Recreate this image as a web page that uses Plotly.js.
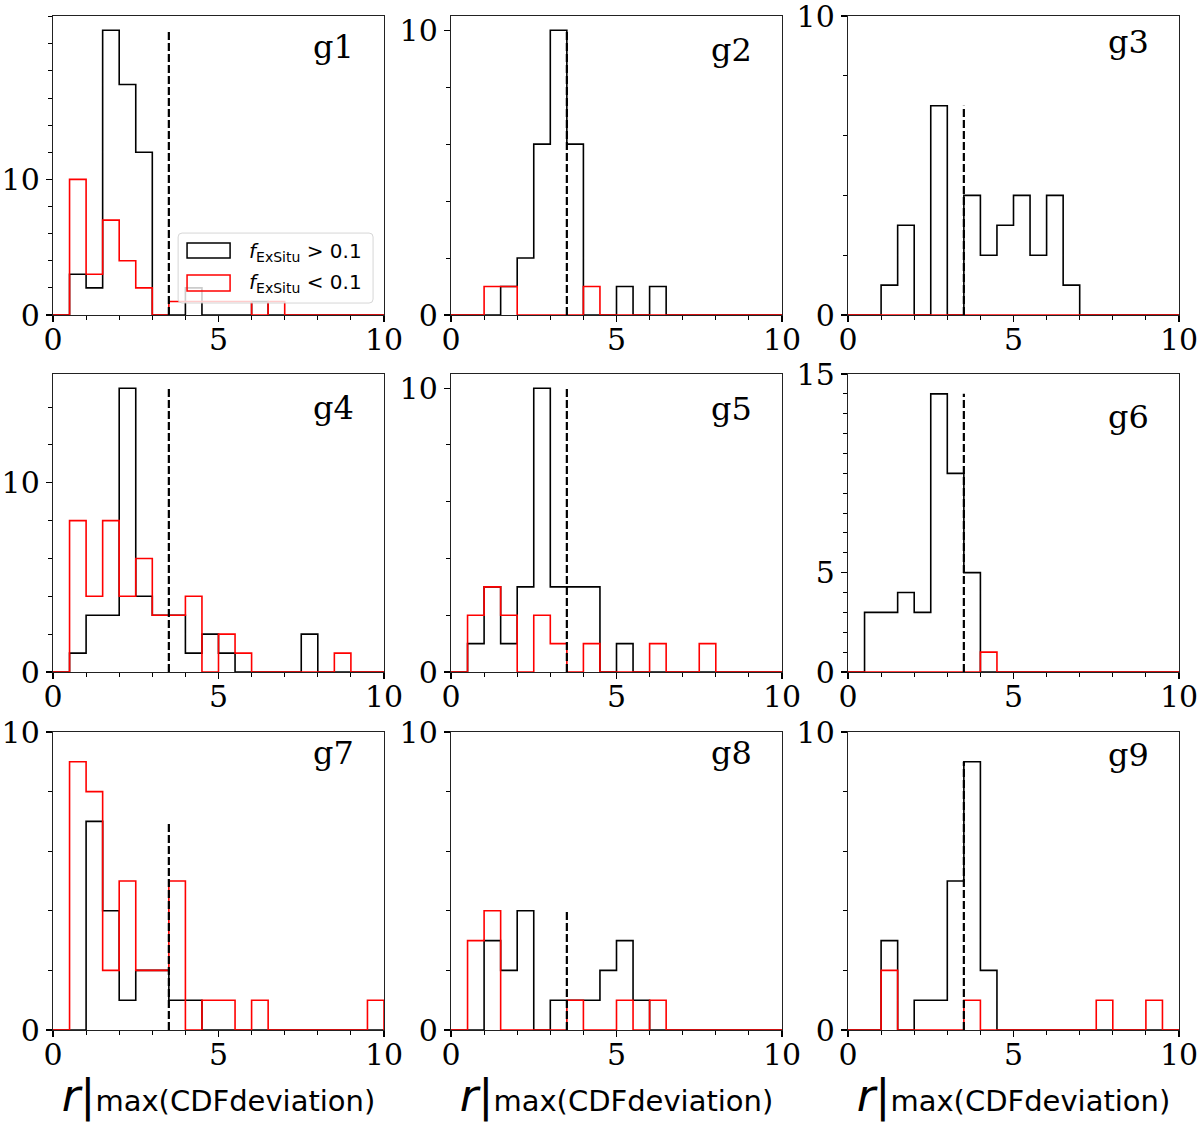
<!DOCTYPE html>
<html>
<head>
<meta charset="utf-8">
<script src="https://cdn.plot.ly/plotly-3.0.1.min.js"></script>
<style>
html, body { margin: 0; padding: 0; background: #fff; }
#plot { width: 1200px; height: 1122px; }
</style>
</head>
<body>
<div id="plot"></div>
<script>
// bin edges of all histograms (width 0.5)
var binEdges = [0, 0.5, 1, 1.5, 2, 2.5, 3, 3.5, 4, 4.5, 5, 5.5, 6, 6.5, 7, 7.5, 8, 8.5, 9, 9.5, 10];

// counts per bin, fExSitu > 0.1 (black) and fExSitu < 0.1 (red)
var g1Black = [0, 3, 2, 21, 17, 12, 0, 0, 2, 0, 0, 0, 1, 0, 0, 0, 0, 0, 0, 0];
var g1Red   = [0, 10, 3, 7, 4, 2, 0, 1, 1, 1, 1, 1, 0, 1, 0, 0, 0, 0, 0, 0];
var g2Black = [0, 0, 0, 1, 2, 6, 10, 6, 0, 0, 1, 0, 1, 0, 0, 0, 0, 0, 0, 0];
var g2Red   = [0, 0, 1, 1, 0, 0, 0, 0, 1, 0, 0, 0, 0, 0, 0, 0, 0, 0, 0, 0];
var g3Black = [0, 0, 1, 3, 0, 7, 0, 4, 2, 3, 4, 2, 4, 1, 0, 0, 0, 0, 0, 0];
var g3Red   = [0, 0, 0, 0, 0, 0, 0, 0, 0, 0, 0, 0, 0, 0, 0, 0, 0, 0, 0, 0];
var g4Black = [0, 1, 3, 3, 15, 4, 3, 3, 1, 2, 1, 0, 0, 0, 0, 2, 0, 0, 0, 0];
var g4Red   = [0, 8, 4, 8, 4, 6, 3, 3, 4, 0, 2, 1, 0, 0, 0, 0, 0, 1, 0, 0];
var g5Black = [0, 1, 3, 1, 3, 10, 3, 3, 3, 0, 1, 0, 0, 0, 0, 0, 0, 0, 0, 0];
var g5Red   = [0, 2, 3, 2, 0, 2, 1, 0, 1, 0, 0, 0, 1, 0, 0, 1, 0, 0, 0, 0];
var g6Black = [0, 3, 3, 4, 3, 14, 10, 5, 0, 0, 0, 0, 0, 0, 0, 0, 0, 0, 0, 0];
var g6Red   = [0, 0, 0, 0, 0, 0, 0, 0, 1, 0, 0, 0, 0, 0, 0, 0, 0, 0, 0, 0];
var g7Black = [0, 0, 7, 4, 1, 2, 2, 1, 1, 0, 0, 0, 0, 0, 0, 0, 0, 0, 0, 0];
var g7Red   = [0, 9, 8, 2, 5, 2, 2, 5, 0, 1, 1, 0, 1, 0, 0, 0, 0, 0, 0, 1];
var g8Black = [0, 0, 3, 2, 4, 0, 1, 1, 1, 2, 3, 1, 0, 0, 0, 0, 0, 0, 0, 0];
var g8Red   = [0, 3, 4, 0, 0, 0, 0, 1, 0, 0, 1, 0, 1, 0, 0, 0, 0, 0, 0, 0];
var g9Black = [0, 0, 3, 0, 1, 1, 5, 9, 2, 0, 0, 0, 0, 0, 0, 0, 0, 0, 0, 0];
var g9Red   = [0, 0, 2, 0, 0, 0, 0, 1, 0, 0, 0, 0, 0, 0, 0, 1, 0, 0, 1, 0];

var panelNames = ["g1", "g2", "g3", "g4", "g5", "g6", "g7", "g8", "g9"];
var blackCounts = [g1Black, g2Black, g3Black, g4Black, g5Black, g6Black, g7Black, g8Black, g9Black];
var redCounts = [g1Red, g2Red, g3Red, g4Red, g5Red, g6Red, g7Red, g8Red, g9Red];

// dashed cut
var cutValue = 3.5;

// y axis upper limits and tick labels
var yTop = [22.05, 10.5, 10, 15.75, 10.5, 15, 10, 10, 10];
var yMajorTicks = [[0, 10], [0, 10], [0, 10], [0, 10], [0, 10], [0, 5, 15], [0, 10], [0, 10], [0, 10]];
var yMinorStep = [2, 2, 2, 2, 2, 1, 2, 2, 2];
var xMajorTicks = [0, 5, 10];
var xMinorTicks = [1, 2, 3, 4, 6, 7, 8, 9];

var xTitle = "<i>r</i>|<span style='font-size:29px'>max(CDFdeviation)</span>";
var legendLabels = ["<i>f</i><sub>ExSitu</sub> &gt; 0.1", "<i>f</i><sub>ExSitu</sub> &lt; 0.1"];

// outline of a step histogram
function stepXY(edges, counts)
{
	var x = [edges[0]];
	var y = [0];
	for (var i = 0; i < counts.length; i++)
	{
		x.push(edges[i]);
		y.push(counts[i]);
	}
	x.push(edges[edges.length - 1]);
	y.push(counts[counts.length - 1]);
	x.push(edges[edges.length - 1]);
	y.push(0);
	return [x, y];
}

function minorTicks(top, step, major)
{
	var v = [];
	for (var t = step; t <= top + 1e-9; t += step)
	{
		if (major.indexOf(t) < 0) v.push(t);
	}
	return v;
}

// panel frames in pixels
var colPx = [[53, 384], [451, 782], [848, 1179]];
var rowPx = [[16, 315], [374, 672], [732, 1030]];
var W = 1200, H = 1122;
var labelY = [0.895, 0.886, 0.913, 0.886, 0.883, 0.856, 0.928, 0.928, 0.923];

var traces = [];
var layout = {
	width: W,
	height: H,
	margin: {l: 0, r: 0, t: 0, b: 0},
	paper_bgcolor: "#fff",
	plot_bgcolor: "#fff",
	showlegend: false,
	annotations: [],
	shapes: []
};

for (var p = 0; p < 9; p++)
{
	var n = p + 1;
	var row = Math.floor(p / 3);
	var col = p % 3;
	var xa = "x" + n, ya = "y" + n;

	var b = stepXY(binEdges, blackCounts[p]);
	traces.push({x: b[0], y: b[1], xaxis: xa, yaxis: ya, type: "scatter", mode: "lines",
		line: {color: "#000000", width: 1.6, shape: "hv"}, hoverinfo: "skip"});
	var r = stepXY(binEdges, redCounts[p]);
	traces.push({x: r[0], y: r[1], xaxis: xa, yaxis: ya, type: "scatter", mode: "lines",
		line: {color: "#ff0000", width: 1.6, shape: "hv"}, hoverinfo: "skip"});
	var peak = Math.max.apply(null, blackCounts[p]);
	traces.push({x: [cutValue, cutValue], y: [0, peak], xaxis: xa, yaxis: ya, type: "scatter", mode: "lines",
		line: {color: "#000000", width: 2.2, dash: "8px,3px"}, hoverinfo: "skip"});

	var xaxis = {
		domain: [colPx[col][0] / W, colPx[col][1] / W],
		anchor: ya,
		range: [0, 10],
		tickmode: "array",
		tickvals: xMajorTicks,
		ticks: "outside",
		ticklen: 6,
		tickwidth: 1.2,
		tickcolor: "#000",
		ticklabelstandoff: -8,
		ticklabeloverflow: "allow",
		showline: true,
		mirror: true,
		linecolor: "#222",
		linewidth: 1.2,
		showgrid: false,
		zeroline: false,
		tickfont: {family: "DejaVu Serif", size: 30, color: "#000"},
		minor: {tickmode: "array", tickvals: xMinorTicks, ticks: "outside", ticklen: 3.5, tickwidth: 1, tickcolor: "#000", showgrid: false}
	};
	if (row == 2)
	{
		xaxis.title = {text: xTitle, font: {family: "DejaVu Sans", size: 45, color: "#000"}, standoff: 6};
	}
	layout["xaxis" + n] = xaxis;

	layout["yaxis" + n] = {
		domain: [1 - rowPx[row][1] / H, 1 - rowPx[row][0] / H],
		anchor: xa,
		range: [0, yTop[p]],
		tickmode: "array",
		tickvals: yMajorTicks[p],
		ticks: "outside",
		ticklen: 6,
		tickwidth: 1.2,
		tickcolor: "#000",
		ticklabeloverflow: "allow",
		showline: true,
		mirror: true,
		linecolor: "#222",
		linewidth: 1.2,
		showgrid: false,
		zeroline: false,
		tickfont: {family: "DejaVu Serif", size: 30, color: "#000"},
		minor: {tickmode: "array", tickvals: minorTicks(yTop[p], yMinorStep[p], yMajorTicks[p]),
			ticks: "outside", ticklen: 3.5, tickwidth: 1, tickcolor: "#000", showgrid: false}
	};

	layout.annotations.push({
		text: panelNames[p],
		xref: xa + " domain", yref: ya + " domain",
		x: 0.915, y: labelY[p], xanchor: "right", yanchor: "middle",
		showarrow: false,
		font: {family: "DejaVu Serif", size: 32, color: "#000"}
	});
}

// legend of the first panel, drawn like the matplotlib box
var lx0 = 0.378, lx1 = 0.967, ly0 = 0.040, ly1 = 0.274, rx = 0.012, ry = 0.013;
layout.shapes.push({
	type: "path", xref: "x domain", yref: "y domain", layer: "above",
	path: "M" + (lx0 + rx) + "," + ly0 + " L" + (lx1 - rx) + "," + ly0 +
		" Q" + lx1 + "," + ly0 + " " + lx1 + "," + (ly0 + ry) +
		" L" + lx1 + "," + (ly1 - ry) +
		" Q" + lx1 + "," + ly1 + " " + (lx1 - rx) + "," + ly1 +
		" L" + (lx0 + rx) + "," + ly1 +
		" Q" + lx0 + "," + ly1 + " " + lx0 + "," + (ly1 - ry) +
		" L" + lx0 + "," + (ly0 + ry) +
		" Q" + lx0 + "," + ly0 + " " + (lx0 + rx) + "," + ly0 + " Z",
	fillcolor: "rgba(255,255,255,0.8)",
	line: {color: "rgba(204,204,204,0.8)", width: 1}
});
var patchColors = ["#000000", "#ff0000"];
var patchY = [[0.191, 0.241], [0.080, 0.134]];
var textY = [0.211, 0.107];
for (var k = 0; k < 2; k++)
{
	layout.shapes.push({
		type: "rect", xref: "x domain", yref: "y domain", layer: "above",
		x0: 0.405, x1: 0.535, y0: patchY[k][0], y1: patchY[k][1],
		fillcolor: "rgba(0,0,0,0)",
		line: {color: patchColors[k], width: 1.5}
	});
	layout.annotations.push({
		text: legendLabels[k],
		xref: "x domain", yref: "y domain",
		x: 0.586, y: textY[k], xanchor: "left", yanchor: "middle",
		showarrow: false,
		font: {family: "DejaVu Sans", size: 20, color: "#000"}
	});
}

Plotly.newPlot("plot", traces, layout, {staticPlot: true});
</script>
</body>
</html>
